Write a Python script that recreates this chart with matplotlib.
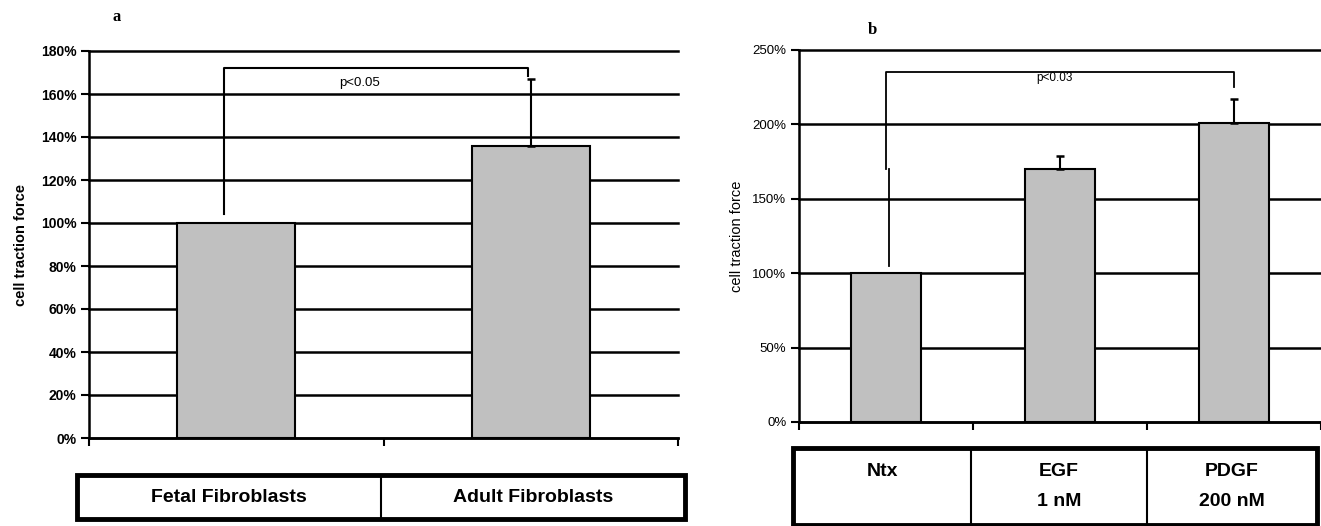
import matplotlib
matplotlib.use("Agg")
import matplotlib.pyplot as plt
from matplotlib import font_manager
from matplotlib.patches import Rectangle
import numpy as np

# ---------------- data ----------------
categories_a = ["Fetal Fibroblasts", "Adult Fibroblasts"]
values_a = [100, 136]
errors_a = [0, 31]
yticks_a = [0, 20, 40, 60, 80, 100, 120, 140, 160, 180]
sig_a_label = "p<0.05"

categories_b = ["Ntx", "EGF\n1 nM", "PDGF\n200 nM"]
values_b = [100, 170, 201]
errors_b = [0, 9, 16]
yticks_b = [0, 50, 100, 150, 200, 250]
sig_b_label = "p<0.03"

ylabel = "cell traction force"

# ---------------- fonts ----------------
names = {f.name for f in font_manager.fontManager.ttflist}
SANS = "Liberation Sans" if "Liberation Sans" in names else "DejaVu Sans"
NARROW = "Liberation Sans Narrow" if "Liberation Sans Narrow" in names else SANS
SERIF = "Liberation Serif" if "Liberation Serif" in names else "DejaVu Serif"
plt.rcParams["font.family"] = [SANS, "DejaVu Sans"]

W, H = 1321, 526
fig = plt.figure(figsize=(W / 100, H / 100), dpi=100)


def fx(px):
    return px / W


def fy(py):
    return 1 - py / H


BAR_COLOR = "#c0c0c0"


def style_axes(ax, yticks, ymax, n, tick_bold):
    ax.set_xlim(-0.5, n - 0.5)
    ax.set_ylim(0, ymax)
    ax.set_yticks(yticks)
    ax.set_yticklabels([f"{t}%" for t in yticks],
                       fontsize=10 if tick_bold else 9.5,
                       fontweight="bold" if tick_bold else "normal",
                       family=SANS)
    ax.set_xticks(np.arange(-0.5, n, 1.0))
    ax.set_xticklabels([])
    ax.tick_params(axis="y", direction="out", length=6, width=1.5, pad=3)
    ax.tick_params(axis="x", direction="out", length=6, width=1.5)
    ax.yaxis.grid(True, color="black", linewidth=1.8)
    ax.set_axisbelow(True)
    for s in ["top", "right"]:
        ax.spines[s].set_visible(False)
    for s in ["left", "bottom"]:
        ax.spines[s].set_linewidth(1.8)
    for gl in ax.yaxis.get_gridlines():
        gl.set_clip_on(False)


def draw_errors(ax, x, vals, errs):
    x = np.asarray(x)
    vals = np.asarray(vals, dtype=float)
    errs = np.asarray(errs, dtype=float)
    m = errs > 0
    ax.errorbar(x[m], vals[m], yerr=[np.zeros(m.sum()), errs[m]], fmt="none",
                ecolor="black", elinewidth=1.5, capsize=3, capthick=1.8, zorder=4)


# ---------------- panel a ----------------
axa = fig.add_axes([fx(89), fy(438), fx(678 - 89), (438 - 51) / H])
xa = np.arange(len(categories_a))
axa.bar(xa, values_a, width=0.4, color=BAR_COLOR, edgecolor="black", linewidth=1.5, zorder=3)
draw_errors(axa, xa, values_a, errors_a)
style_axes(axa, yticks_a, 180, len(categories_a), True)
axa.set_ylabel(ylabel, fontsize=10.5, fontweight="bold")
axa.yaxis.set_label_coords(-0.104, 0.5)

# significance bracket a
axa.plot([-0.04, -0.04, 0.99, 0.99], [104, 172, 172, 168.5], color="black",
         linewidth=1.5, zorder=5, clip_on=False)
axa.text(0.42, 165, sig_a_label, ha="center", va="center", fontsize=9.5, family=SANS)

fig.text(fx(117), fy(17), "a", family=SERIF, fontweight="bold", fontsize=12,
         ha="center", va="center")

# ---------------- panel b ----------------
axb = fig.add_axes([fx(799), fy(422), fx(1321 - 799), (422 - 50) / H])
xb = np.arange(len(categories_b))
axb.bar(xb, values_b, width=0.4, color=BAR_COLOR, edgecolor="black", linewidth=1.5, zorder=3)
draw_errors(axb, xb, values_b, errors_b)
style_axes(axb, yticks_b, 250, len(categories_b), False)
axb.set_ylabel(ylabel, fontsize=10.5, fontweight="normal")
axb.yaxis.set_label_coords(-0.105, 0.5)

# significance bracket b
axb.plot([0.0, 0.0, 2.0, 2.0], [170, 235, 235, 225], color="black",
         linewidth=1.3, zorder=5, clip_on=False)
axb.plot([0.02, 0.02], [105, 170], color="black", linewidth=1.3, zorder=5)
axb.text(0.97, 231, sig_b_label, ha="center", va="center", fontsize=8.5, family=SANS)

fig.text(fx(872), fy(30), "b", family=SERIF, fontweight="bold", fontsize=12,
         ha="center", va="center")


# ---------------- tables under the axes ----------------
def table_axes(rect_px):
    x0, y0, x1, y1 = rect_px
    tax = fig.add_axes([fx(x0), fy(y1), fx(x1 - x0), (y1 - y0) / H])
    tax.set_xlim(x0, x1)
    tax.set_ylim(y1, y0)
    tax.axis("off")
    tax.add_patch(Rectangle((x0, y0), x1 - x0, y1 - y0, fill=False,
                            edgecolor="black", linewidth=3.5, clip_on=False))
    return tax


# table a
ta = table_axes((77, 475, 685, 519))
edges_a = [77, 381, 685]
ta.plot([edges_a[1], edges_a[1]], [475, 519], color="black", linewidth=1.5)
for i, lab in enumerate(categories_a):
    cx = (edges_a[i] + edges_a[i + 1]) / 2
    ta.text(cx, 497, lab, ha="center", va="center", fontsize=14,
            fontweight="bold", family=NARROW)

# table b
tb = table_axes((793, 448, 1317, 525))
edges_b = [793, 971, 1147, 1317]
for e in edges_b[1:-1]:
    tb.plot([e, e], [448, 525], color="black", linewidth=1.5)
line_ys = [472, 502]
for i, lab in enumerate(categories_b):
    cx = (edges_b[i] + edges_b[i + 1]) / 2
    for j, line in enumerate(lab.split("\n")):
        tb.text(cx, line_ys[j], line, ha="center", va="center", fontsize=14,
                fontweight="bold", family=NARROW)

fig.savefig("out.png", dpi=100)
